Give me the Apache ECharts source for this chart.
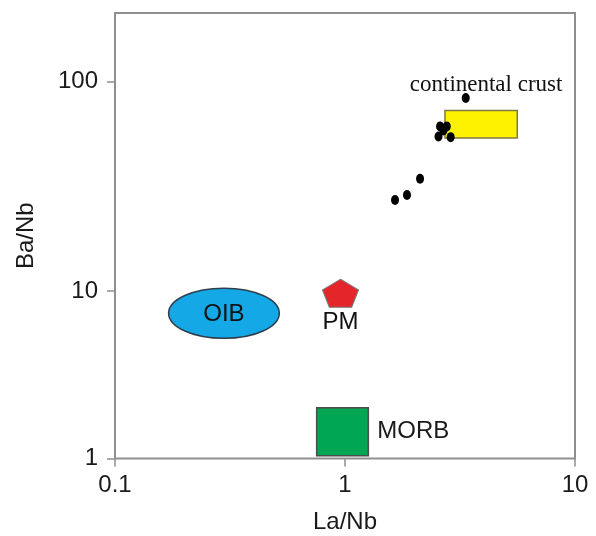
<!DOCTYPE html>
<html>
<head>
<meta charset="utf-8">
<title>Ba/Nb vs La/Nb</title>
<script src="https://cdn.jsdelivr.net/npm/echarts@6.0.0/dist/echarts.min.js"></script>
<style>
  html, body { margin: 0; padding: 0; background: #fff; }
  #chart { width: 596px; height: 536px; }
</style>
</head>
<body>
<div id="chart"></div>
<script>
(function () {
  'use strict';

  // samples: La/Nb vs Ba/Nb
  var sampleLaNb = [1.65, 1.86, 2.12, 2.59, 2.77, 2.55, 2.88, 2.68, 3.35];
  var sampleBaNb = [27.2, 28.7, 34.3, 61.0, 61.0, 54.6, 54.2, 58.3, 83.3];

  // reference fields: [La/Nb min, La/Nb max, Ba/Nb min, Ba/Nb max]
  var crustBox = [2.72, 5.61, 53.7, 72.7];
  var morbBox = [0.753, 1.263, 1.04, 2.01];
  var oibEllipse = [0.171, 0.518, 5.22, 10.4];
  var pmPoint = [0.956, 9.7];

  var fieldNames = ['continental crust', 'MORB', 'OIB', 'PM'];

  var xTicks = [0.1, 1, 10];
  var yTicksLow = [1, 10];
  var yTicksHigh = [100];

  var sans = '"Liberation Sans", Arial, Helvetica, sans-serif';
  var axisGray = '#8f8f8f';
  var textColor = '#1a1a1a';

  // the original figure has 1-10 decade shorter than 10-100, so it is split in two grids
  var frame = { left: 115, top: 13, width: 460, height: 445.5 };
  var upperH = 278;

  function logAxisX(gridIndex, show) {
    return {
      type: 'log', gridIndex: gridIndex, min: 0.1, max: 10, logBase: 10,
      show: show,
      axisLine: { show: false },
      axisTick: { show: true, length: 8, customValues: xTicks, lineStyle: { color: axisGray, width: 1.5 } },
      axisLabel: { show: true, customValues: xTicks, margin: 15, fontSize: 24, fontFamily: sans, color: textColor,
        formatter: function (v) { return String(v); } },
      minorTick: { show: false },
      splitLine: { show: false }
    };
  }

  function logAxisY(gridIndex, min, max, ticks) {
    return {
      type: 'log', gridIndex: gridIndex, min: min, max: max, logBase: 10,
      axisLine: { show: false },
      axisTick: { show: true, length: 8, customValues: ticks, lineStyle: { color: axisGray, width: 1.5 } },
      axisLabel: { show: true, customValues: ticks, margin: 17, fontSize: 24, fontFamily: sans, color: textColor,
        formatter: function (v) { return String(v); } },
      minorTick: { show: false },
      splitLine: { show: false }
    };
  }

  function renderBox(params, api) {
    var p0 = api.coord([api.value(0), api.value(3)]);
    var p1 = api.coord([api.value(1), api.value(2)]);
    var isCrust = params.seriesName === fieldNames[0];
    var rect = {
      type: 'rect',
      shape: { x: p0[0], y: p0[1], width: p1[0] - p0[0], height: p1[1] - p0[1] },
      style: isCrust ? { fill: '#fff200', stroke: '#7f7a42', lineWidth: 1.5 }
                     : { fill: '#00a651', stroke: '#4d4d4d', lineWidth: 1.5 }
    };
    var label = isCrust ? {
      type: 'text',
      style: { text: params.seriesName, x: (p0[0] + p1[0]) / 2 + 5, y: p0[1] - 14,
        align: 'center', verticalAlign: 'bottom',
        font: '23px "Liberation Serif", "Times New Roman", serif', fill: '#111' }
    } : {
      type: 'text',
      style: { text: params.seriesName, x: p1[0] + 9, y: (p0[1] + p1[1]) / 2,
        align: 'left', verticalAlign: 'middle', font: '24px ' + sans, fill: textColor }
    };
    return { type: 'group', children: [rect, label] };
  }

  function renderEllipse(params, api) {
    var p0 = api.coord([api.value(0), api.value(3)]);
    var p1 = api.coord([api.value(1), api.value(2)]);
    var cx = (p0[0] + p1[0]) / 2, cy = (p0[1] + p1[1]) / 2;
    return {
      type: 'group',
      children: [{
        type: 'ellipse',
        shape: { cx: cx, cy: cy, rx: (p1[0] - p0[0]) / 2, ry: (p1[1] - p0[1]) / 2 },
        style: { fill: '#14a9e6', stroke: '#2f3d4c', lineWidth: 1.5 }
      }, {
        type: 'text',
        style: { text: params.seriesName, x: cx, y: cy + 1, align: 'center', verticalAlign: 'middle',
          font: '24px ' + sans, fill: '#111' }
      }]
    };
  }

  var samples = sampleLaNb.map(function (x, i) { return [x, sampleBaNb[i]]; });

  var option = {
    animation: false,
    backgroundColor: '#fff',
    grid: [
      { left: frame.left, top: frame.top + upperH, width: frame.width, height: frame.height - upperH,
        containLabel: false, outerBoundsMode: 'none' },
      { left: frame.left, top: frame.top, width: frame.width, height: upperH,
        containLabel: false, outerBoundsMode: 'none' },
      { left: frame.left, top: frame.top, width: frame.width, height: frame.height,
        containLabel: false, outerBoundsMode: 'none',
        show: true, borderColor: axisGray, borderWidth: 2, backgroundColor: 'transparent' }
    ],
    xAxis: [
      Object.assign(logAxisX(0, true), {
        name: 'La/Nb', nameLocation: 'middle', nameGap: 52, nameMoveOverlap: false,
        nameTextStyle: { fontSize: 24, fontFamily: sans, color: textColor }
      }),
      logAxisX(1, false),
      { type: 'value', gridIndex: 2, show: false, min: 0, max: 1 }
    ],
    yAxis: [
      logAxisY(0, 1, 10, yTicksLow),
      logAxisY(1, 10, 212, yTicksHigh),
      {
        type: 'value', gridIndex: 2, min: 0, max: 1,
        axisLine: { show: false }, axisTick: { show: false }, axisLabel: { show: false },
        splitLine: { show: false },
        name: 'Ba/Nb', nameLocation: 'middle', nameGap: 77, nameMoveOverlap: false,
        nameTextStyle: { fontSize: 24, fontFamily: sans, color: textColor }
      }
    ],
    series: [
      {
        name: fieldNames[0], type: 'custom', xAxisIndex: 1, yAxisIndex: 1, z: 2,
        renderItem: renderBox, data: [crustBox]
      },
      {
        name: fieldNames[1], type: 'custom', xAxisIndex: 0, yAxisIndex: 0, z: 2,
        renderItem: renderBox, data: [morbBox]
      },
      {
        name: fieldNames[2], type: 'custom', xAxisIndex: 0, yAxisIndex: 0, z: 2,
        renderItem: renderEllipse, data: [oibEllipse]
      },
      {
        name: fieldNames[3], type: 'scatter', xAxisIndex: 0, yAxisIndex: 0, z: 3,
        symbol: 'path://M0,-100 L95.1,-30.9 L58.8,80.9 L-58.8,80.9 L-95.1,-30.9 Z',
        symbolSize: [36, 28], symbolKeepAspect: false,
        itemStyle: { color: '#e42529', borderColor: '#7a7a7a', borderWidth: 1, opacity: 1 },
        label: { show: true, position: 'bottom', distance: 3, formatter: fieldNames[3],
          fontSize: 24, fontFamily: sans, color: '#111', opacity: 1 },
        data: [pmPoint]
      },
      {
        name: 'samples', type: 'scatter', xAxisIndex: 1, yAxisIndex: 1, z: 4,
        symbol: 'circle', symbolSize: [8, 10],
        itemStyle: { color: '#000', opacity: 1 },
        data: samples
      }
    ]
  };

  var myChart = echarts.init(document.getElementById('chart'), null, { renderer: 'canvas' });
  myChart.setOption(option);
})();
</script>
</body>
</html>
